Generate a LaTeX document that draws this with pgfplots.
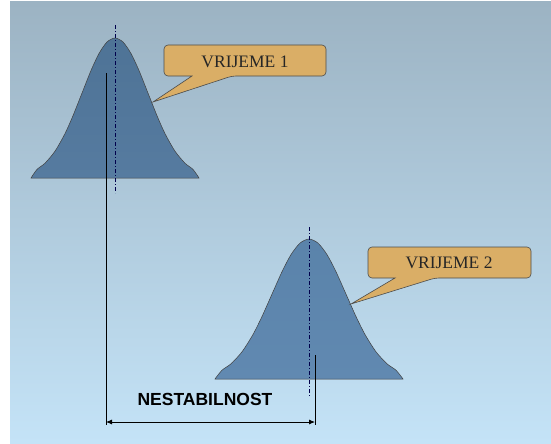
\documentclass[border=0pt]{standalone}
\usepackage{pgfplots}
\pgfplotsset{compat=1.18}
\usepackage{fontspec}
\setmainfont{Liberation Serif}
\newfontfamily\arialfont{Liberation Sans}
\usetikzlibrary{arrows.meta}
\definecolor{bgtop}{HTML}{9CB3C3}
\definecolor{bgbot}{HTML}{C4E3F7}
\definecolor{cvA}{HTML}{4E7396}
\definecolor{cvAb}{HTML}{567BA0}
\definecolor{cvB}{HTML}{5A83AA}
\definecolor{cvBb}{HTML}{6189B1}
\definecolor{tan}{HTML}{DAAE66}
\begin{document}
\begin{tikzpicture}
\begin{axis}[
  width=551pt, height=444pt, scale only axis,
  xmin=0, xmax=551, ymin=0, ymax=444, y dir=reverse,
  hide axis, clip=false,
]
\fill[white] (axis cs:0,0) rectangle (axis cs:551,444);
\fill[top color=bgtop, bottom color=bgbot] (axis cs:10,2) rectangle (axis cs:551,443);
% curve 1
\addplot[draw=black!75, line width=0.5pt, top color=cvA, bottom color=cvAb, smooth, tension=0.45] coordinates {
(31,178) (37,169.4) (45,163.2) (55,151.2) (65,133.6) (73,115.7) (82,93.1) (91,70.5) (99,53.5) (107,42) (115,38)
(123,42) (131,53.5) (139,70.5) (148,93.1) (157,115.7) (165,133.6) (175,151.2) (185,163.2) (193,169.4) (199,178)
} -- cycle;
% curve 2
\addplot[draw=black!75, line width=0.5pt, top color=cvB, bottom color=cvBb, smooth, tension=0.45] coordinates {
(215,379) (222,370.2) (231,363.8) (242,351.8) (253,334.5) (262,316.5) (272,294.1) (282,271.7) (291,254.6) (300,243.1) (309,239)
(318,243.1) (327,254.6) (336,271.7) (346,294.1) (356,316.5) (365,334.5) (376,351.8) (387,363.8) (396,370.2) (403,379)
} -- cycle;
% dash-dot center lines
\addplot[draw=black!70!blue, line width=0.8pt, dash pattern=on 4pt off 2pt on 1pt off 2pt] coordinates {(115,25) (115,193)};
\addplot[draw=black!70!blue, line width=0.8pt, dash pattern=on 4pt off 2pt on 1pt off 2pt] coordinates {(309,227) (309,397)};
% solid dimension lines
\addplot[draw=black, line width=0.6pt] coordinates {(106,73) (106,425)};
\addplot[draw=black, line width=0.6pt] coordinates {(315,355) (315,425)};
\addplot[draw=black, line width=0.8pt, {Latex[length=6pt,width=5pt]}-{Latex[length=6pt,width=5pt]}] coordinates {(106,422) (315,422)};
\node[font=\arialfont\bfseries\fontsize{17.5}{20}\selectfont] at (axis cs:205,399) {NESTABILNOST};
% callout 1
\draw[draw=black!70, line width=0.6pt, fill=tan, rounded corners=4pt]
  (axis cs:164,45) -- (axis cs:326,45) -- (axis cs:326,76) -- (axis cs:232,76)[sharp corners] -- (axis cs:153,102) -- (axis cs:192,76)[rounded corners=4pt] -- (axis cs:164,76) -- cycle;
\node[font=\fontsize{17.5}{20}\selectfont, text=black!85] at (axis cs:245,62) {VRIJEME 1};
% callout 2
\draw[draw=black!70, line width=0.6pt, fill=tan, rounded corners=4pt]
  (axis cs:368,247) -- (axis cs:531,247) -- (axis cs:531,278) -- (axis cs:435,278)[sharp corners] -- (axis cs:351,304) -- (axis cs:395,278)[rounded corners=4pt] -- (axis cs:368,278) -- cycle;
\node[font=\fontsize{17.5}{20}\selectfont, text=black!85] at (axis cs:449,263) {VRIJEME 2};
\end{axis}
\end{tikzpicture}
\end{document}
